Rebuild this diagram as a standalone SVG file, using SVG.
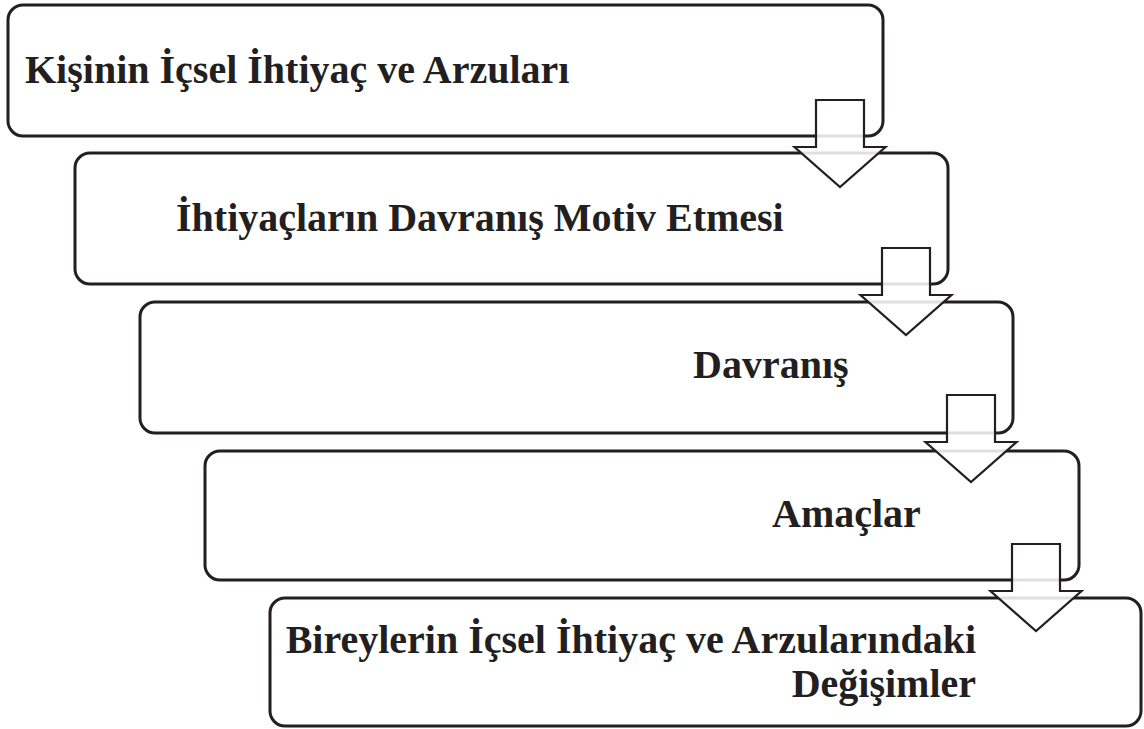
<svg xmlns="http://www.w3.org/2000/svg" width="1144" height="729" viewBox="0 0 1144 729">
  <style>
    .box { fill: #ffffff; stroke: #231f20; stroke-width: 3; }
    .arrow { fill: #ffffff; fill-opacity: 0.86; stroke: #231f20; stroke-width: 2.2; stroke-linejoin: miter; }
    .lbl { font-family: "Liberation Serif", "Times New Roman", serif; font-weight: bold; font-size: 40px; fill: #231f20; }
  </style>
  <defs>
    <!-- block arrow pointing down, origin at the top-centre of its shaft -->
    <path id="down" d="M -24 0 H 24 V 47 H 45.5 L 0 87 L -45.5 47 H -24 Z"/>
  </defs>
  <rect width="1144" height="729" fill="#ffffff"/>

  <g id="step1">
    <rect class="box" x="8" y="5" width="875" height="131" rx="15"/>
    <text class="lbl" x="25" y="83">Kişinin İçsel İhtiyaç ve Arzuları</text>
  </g>
  <g id="step2">
    <rect class="box" x="75" y="153" width="873" height="131" rx="15"/>
    <text class="lbl" x="176" y="231">İhtiyaçların Davranış Motiv Etmesi</text>
  </g>
  <g id="step3">
    <rect class="box" x="140" y="302" width="873" height="131" rx="15"/>
    <text class="lbl" x="693" y="378">Davranış</text>
  </g>
  <g id="step4">
    <rect class="box" x="205" y="451" width="874" height="129" rx="15"/>
    <text class="lbl" x="772" y="527">Amaçlar</text>
  </g>
  <g id="step5">
    <rect class="box" x="270" y="598" width="871" height="128" rx="15"/>
    <text class="lbl" text-anchor="end" x="976" y="653">Bireylerin İçsel İhtiyaç ve Arzularındaki</text>
    <text class="lbl" text-anchor="end" x="976" y="697">Değişimler</text>
  </g>

  <g id="connectors">
    <use href="#down" class="arrow" x="840" y="100"/>
    <use href="#down" class="arrow" x="906" y="248"/>
    <use href="#down" class="arrow" x="971" y="395"/>
    <use href="#down" class="arrow" x="1036" y="544"/>
  </g>
</svg>
